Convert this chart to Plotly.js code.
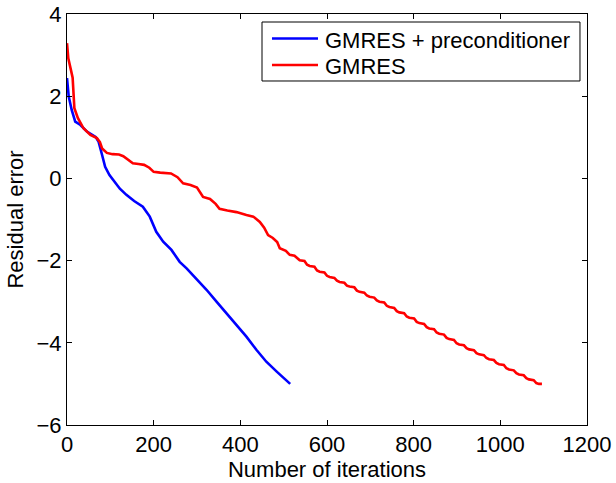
<!DOCTYPE html>
<html>
<head>
<meta charset="utf-8">
<script src="https://cdn.plot.ly/plotly-3.0.1.min.js"></script>
<style>html,body{margin:0;padding:0;background:#fff;}#chart{width:616px;height:483px;}</style>
</head>
<body>
<div id="chart"></div>
<script>
const precondIter = [0, 4, 11, 19, 31, 46, 66, 73, 81, 88, 98, 110, 122, 137, 155, 175, 191, 206, 222, 241, 260, 276, 302, 322, 345, 368, 391, 414, 437, 460, 484, 515];
const precondResidual = [2.44, 1.99, 1.66, 1.38, 1.30, 1.14, 1.01, 0.89, 0.57, 0.28, 0.08, -0.08, -0.25, -0.40, -0.55, -0.69, -0.93, -1.30, -1.54, -1.74, -2.03, -2.19, -2.47, -2.71, -3.00, -3.28, -3.56, -3.85, -4.17, -4.46, -4.70, -5.00];

const gmresIter = [0, 3, 9, 13, 17, 25, 38, 54, 69, 76, 81, 92, 105, 120, 130, 140, 152, 165, 178, 190, 200, 215, 240, 255, 268, 285, 300, 314, 330, 343, 352, 370, 391, 414, 430, 445, 455, 464, 475, 485, 491, 505, 514, 525,
  537, 548, 554, 560, 571, 577, 583, 594, 600, 606, 617, 623, 629, 640, 646, 652, 663, 669, 675, 686, 692, 698, 709, 715,
  721, 732, 738, 744, 755, 761, 767, 778, 784, 790, 801, 807, 813, 824, 830, 836, 847, 853, 859, 870, 876, 882, 893, 899,
  905, 916, 922, 928, 939, 945, 951, 962, 968, 974, 985, 991, 997, 1008, 1014, 1020, 1031, 1037, 1043, 1054, 1060, 1066, 1077, 1083, 1089, 1096];
const gmresResidual = [3.29, 2.92, 2.64, 2.45, 1.71, 1.47, 1.22, 1.06, 0.98, 0.88, 0.73, 0.62, 0.59, 0.58, 0.54, 0.46, 0.37, 0.35, 0.33, 0.26, 0.16, 0.14, 0.12, 0.03, -0.12, -0.16, -0.22, -0.45, -0.50, -0.62, -0.74, -0.78, -0.82, -0.89, -0.93, -1.06, -1.20, -1.38, -1.45, -1.55, -1.70, -1.76, -1.86, -1.88,
  -1.99, -2.01, -2.10, -2.13, -2.15, -2.24, -2.27, -2.29, -2.37, -2.40, -2.42, -2.49, -2.52, -2.54, -2.61, -2.63, -2.65, -2.73, -2.76, -2.78, -2.85, -2.88, -2.90, -2.97,
  -3.00, -3.02, -3.10, -3.13, -3.15, -3.23, -3.26, -3.28, -3.36, -3.39, -3.41, -3.49, -3.52, -3.54, -3.62, -3.65, -3.67, -3.75, -3.78, -3.80, -3.88, -3.91, -3.93, -4.01,
  -4.04, -4.06, -4.13, -4.16, -4.18, -4.25, -4.28, -4.30, -4.37, -4.40, -4.42, -4.49, -4.52, -4.54, -4.62, -4.65, -4.67, -4.74, -4.77, -4.79, -4.86, -4.89, -4.91, -4.98, -5.00, -5.00];

const seriesNames = ['GMRES + preconditioner', 'GMRES'];
const seriesColors = ['#0000ff', '#ff0000'];

const xTicks = [0, 200, 400, 600, 800, 1000, 1200];
const yTicks = [-6, -4, -2, 0, 2, 4];

const font = {family: 'Liberation Sans, Arial, sans-serif', size: 22, color: '#000'};

const traces = [
  {x: precondIter, y: precondResidual, type: 'scatter', mode: 'lines', name: seriesNames[0],
   line: {color: seriesColors[0], width: 2.6}},
  {x: gmresIter, y: gmresResidual, type: 'scatter', mode: 'lines', name: seriesNames[1],
   line: {color: seriesColors[1], width: 2.6}}
];

const axisCommon = {
  showgrid: false, zeroline: false, showline: true, linecolor: '#000', linewidth: 1,
  mirror: 'allticks', ticks: 'inside', ticklen: 5, tickcolor: '#000', tickwidth: 1,
  tickfont: font
};

// Legend box drawn in paper coordinates (MATLAB-style compact legend)
const legendRowsY = [0.9404, 0.8759];
const shapes = [
  {type: 'rect', xref: 'paper', yref: 'paper', x0: 0.375, x1: 0.9865, y0: 0.837, y1: 0.9805,
   line: {color: '#000', width: 1}, fillcolor: '#fff', layer: 'above'}
];
const annotations = [];
seriesNames.forEach((name, i) => {
  shapes.push({type: 'line', xref: 'paper', yref: 'paper', x0: 0.3942, x1: 0.4827,
    y0: legendRowsY[i], y1: legendRowsY[i], line: {color: seriesColors[i], width: 2.6}, layer: 'above'});
  annotations.push({xref: 'paper', yref: 'paper', x: 0.4923, y: legendRowsY[i] - 0.004,
    xanchor: 'left', yanchor: 'middle', text: name, showarrow: false, font: font});
});

const layout = {
  width: 616, height: 483,
  margin: {l: 67, r: 29, t: 14, b: 58},
  paper_bgcolor: '#fff', plot_bgcolor: '#fff',
  font: font,
  showlegend: false,
  xaxis: Object.assign({}, axisCommon, {
    range: [0, 1200], tickvals: xTicks, ticktext: xTicks.map(String),
    title: {text: 'Number of iterations', font: font, standoff: 2}
  }),
  yaxis: Object.assign({}, axisCommon, {
    range: [-6, 4], tickvals: yTicks,
    title: {text: 'Residual error', font: font, standoff: 6}
  }),
  shapes: shapes,
  annotations: annotations
};

Plotly.newPlot('chart', traces, layout, {staticPlot: true, displayModeBar: false});
</script>
</body>
</html>
